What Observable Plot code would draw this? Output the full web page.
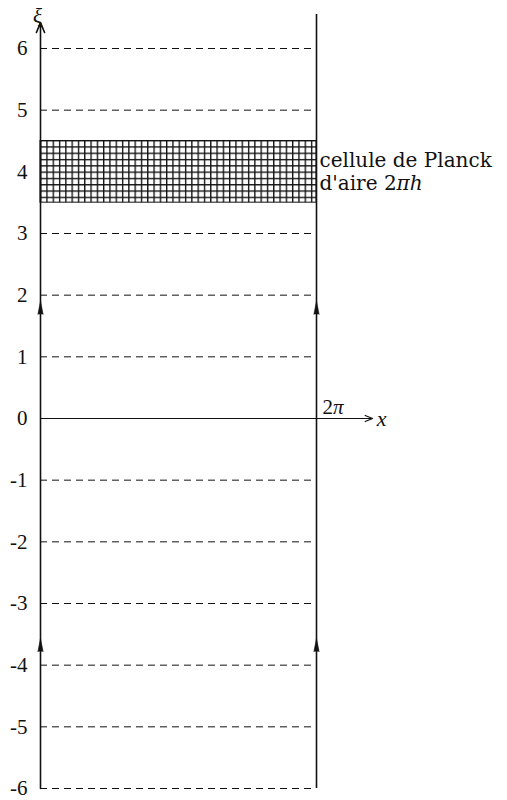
<!DOCTYPE html>
<html>
<head>
<meta charset="utf-8">
<script src="https://cdn.jsdelivr.net/npm/d3@7"></script>
<script src="https://cdn.jsdelivr.net/npm/@observablehq/plot@0.6"></script>
<style>
  html, body { margin: 0; padding: 0; background: #fff; }
</style>
</head>
<body>
<div id="chart"></div>
<script>
const PERIOD = 2 * Math.PI;
const yTicks = [-6, -5, -4, -3, -2, -1, 0, 1, 2, 3, 4, 5, 6];
const dashedLevels = [-6, -5, -4, -3, -2, -1, 1, 2, 3, 4, 5, 6];
const planckCell = [{x1: 0, x2: PERIOD, y1: 3.5, y2: 4.5}];
const flowArrows = [
  {x: 0, y: 1.69}, {x: 0, y: -3.78},
  {x: PERIOD, y: 1.69}, {x: PERIOD, y: -3.78}
];
const xiAxisTop = 6.42;
const rightLineTop = 6.55;
const xAxisEnd = 7.56;
const labels = [
  {x: PERIOD, y: 0, text: "2π"},
  {x: xAxisEnd, y: 0, text: "x"},
  {x: 0, y: 6.52, text: "ξ"}
];
const cellText = [{x: PERIOD, y: 4.0, text: "cellule de Planck\nd'aire 2πh"}];

const SERIF = "Liberation Serif";
const SERIF2 = "DejaVu Serif";

const plot = Plot.plot({
  width: 507,
  height: 800,
  marginLeft: 40,
  marginRight: 191,
  marginTop: 48,
  marginBottom: 12,
  style: {fontFamily: SERIF, fontSize: "21px", background: "#fff", color: "#111", overflow: "visible"},
  x: {domain: [0, PERIOD], axis: null},
  y: {domain: [-6, 6], ticks: yTicks, tickSize: 0, tickPadding: 13, tickFormat: d => String(d), label: null},
  marks: [
    Plot.ruleY(dashedLevels, {x1: 0, x2: PERIOD, stroke: "#111", strokeWidth: 1, strokeDasharray: "7,5"}),
    Plot.rect(planckCell, {x1: "x1", x2: "x2", y1: "y1", y2: "y2", fill: "url(#planck-grid)", stroke: "#111", strokeWidth: 1}),
    Plot.arrow([{x1: 0, y1: 0, x2: xAxisEnd, y2: 0}], {x1: "x1", y1: "y1", x2: "x2", y2: "y2", stroke: "#111", strokeWidth: 1.2, headLength: 10, headAngle: 45}),
    Plot.arrow([{x1: 0, y1: -6, x2: 0, y2: xiAxisTop}], {x1: "x1", y1: "y1", x2: "x2", y2: "y2", stroke: "#111", strokeWidth: 1.6, headLength: 10, headAngle: 45}),
    Plot.ruleX([PERIOD], {y1: -6, y2: rightLineTop, stroke: "#111", strokeWidth: 1.6}),
    Plot.vector(flowArrows, {x: "x", y: "y", length: 13, rotate: 0, shape: "spike", r: 2.6, anchor: "start", fill: "#111", stroke: "#111", strokeWidth: 0.6}),
    Plot.text(labels.slice(0, 1), {x: "x", y: "y", text: "text", dx: 6, dy: -11, textAnchor: "start", fontSize: 21, fontFamily: SERIF}),
    Plot.text(labels.slice(1, 2), {x: "x", y: "y", text: "text", dx: 9, dy: 0, textAnchor: "middle", fontSize: 22, fontStyle: "italic", fontFamily: SERIF}),
    Plot.text(labels.slice(2, 3), {x: "x", y: "y", text: "text", dx: -3, textAnchor: "middle", fontSize: 21, fontStyle: "italic", fontFamily: SERIF}),
    Plot.text(cellText, {x: "x", y: "y", text: "text", dx: 3, dy: -1, textAnchor: "start", lineHeight: 1.15, fontSize: 20, fontFamily: SERIF2})
  ]
});

// grid pattern for the Planck cell
const svg = d3.select(plot);
const defs = svg.insert("defs", ":first-child");
const pat = defs.append("pattern")
  .attr("id", "planck-grid")
  .attr("patternUnits", "userSpaceOnUse")
  .attr("x", 40).attr("y", 140)
  .attr("width", 6.3).attr("height", 6.3);
pat.append("rect").attr("width", 6.3).attr("height", 6.3).attr("fill", "#fff");
pat.append("path").attr("d", "M0,0.6H6.3M0.6,0V6.3").attr("stroke", "#111").attr("stroke-width", 1.5);

// italicise math symbols (π, h) as in the original typesetting
svg.selectAll("text, tspan").each(function() {
  if (this.childNodes.length === 1 && this.firstChild.nodeType === 3) {
    const s = this.textContent;
    const i = s.indexOf("π");
    if (i >= 0) {
      this.textContent = s.slice(0, i);
      const t = document.createElementNS("http://www.w3.org/2000/svg", "tspan");
      t.setAttribute("font-style", "italic");
      t.textContent = s.slice(i);
      this.appendChild(t);
    }
  }
});

document.getElementById("chart").appendChild(plot);
</script>
</body>
</html>
